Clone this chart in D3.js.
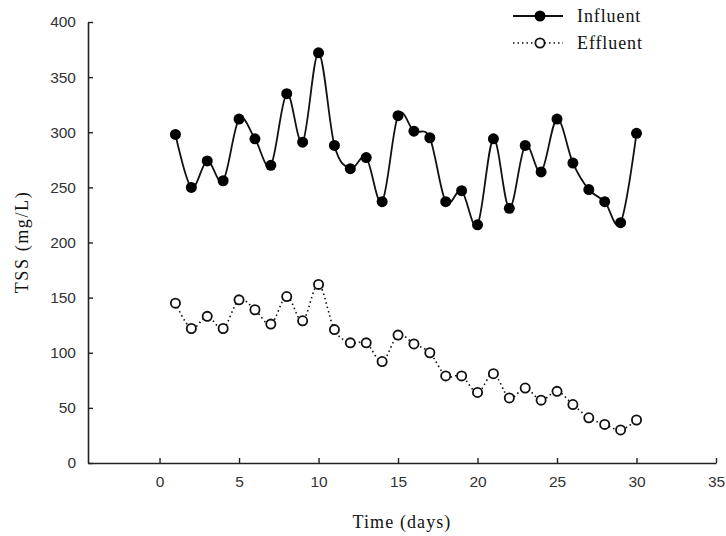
<!DOCTYPE html>
<html>
<head>
<meta charset="utf-8">
<script src="https://cdn.jsdelivr.net/npm/d3@7"></script>
<style>
  html, body { margin: 0; padding: 0; background: #fff; }
  svg { display: block; }
</style>
</head>
<body>
<svg id="chart" width="726" height="536"></svg>
<script>
const days = d3.range(1, 31);
const influent = [298, 250, 274, 256, 312, 294, 270, 335, 291, 372,
                  288, 267, 277, 237, 315, 301, 295, 237, 247, 216,
                  294, 231, 288, 264, 312, 272, 248, 237, 218, 299];
const effluent = [145, 122, 133, 122, 148, 139, 126, 151, 129, 162,
                  121, 109, 109, 92, 116, 108, 100, 79, 79, 64,
                  81, 59, 68, 57, 65, 53, 41, 35, 30, 39];
const xTicks = [0, 5, 10, 15, 20, 25, 30, 35];
const yTicks = [0, 50, 100, 150, 200, 250, 300, 350, 400];
const seriesNames = ["Influent", "Effluent"];

const svg = d3.select("#chart");
const mLeft = 88, mRight = 716, mTop = 22, mBottom = 463;

const x = d3.scaleLinear().domain([-4.5, 35]).range([mLeft, mRight]);
const y = d3.scaleLinear().domain([0, 400]).range([mBottom, mTop]);

const axisColor = "#222";
const tickFont = "'Liberation Sans', Arial, sans-serif";
const serif = "'Liberation Serif', 'Times New Roman', serif";

// X axis
const gx = svg.append("g").attr("transform", `translate(0,${mBottom})`)
  .call(d3.axisBottom(x).tickValues(xTicks).tickSizeInner(-5).tickSizeOuter(0).tickPadding(13));
gx.select(".domain").attr("stroke", axisColor).attr("stroke-width", 1.6);
gx.selectAll(".tick line").attr("stroke", axisColor).attr("stroke-width", 1.4);
gx.selectAll(".tick text").attr("font-family", tickFont).attr("font-size", 15.5).attr("fill", "#333");

// Y axis
const gy = svg.append("g").attr("transform", `translate(${mLeft},0)`)
  .call(d3.axisLeft(y).tickValues(yTicks).tickSizeInner(-5).tickSizeOuter(0).tickPadding(12));
gy.select(".domain").attr("stroke", axisColor).attr("stroke-width", 1.6);
gy.selectAll(".tick line").attr("stroke", axisColor).attr("stroke-width", 1.4);
gy.selectAll(".tick text").attr("font-family", tickFont).attr("font-size", 15.5).attr("fill", "#333");

// Axis titles
svg.append("text").attr("x", 402).attr("y", 528).attr("text-anchor", "middle")
  .attr("font-family", serif).attr("font-size", 18).attr("letter-spacing", 1.1)
  .attr("fill", "#111").text("Time (days)");
svg.append("text").attr("transform", "translate(28,242) rotate(-90)").attr("text-anchor", "middle")
  .attr("font-family", serif).attr("font-size", 18).attr("letter-spacing", 1.6)
  .attr("fill", "#111").text("TSS (mg/L)");

const line = d3.line().x((d, i) => x(days[i])).y(d => y(d)).curve(d3.curveCardinal.tension(0));

// Effluent
svg.append("path").datum(effluent).attr("d", line).attr("fill", "none")
  .attr("stroke", "#111").attr("stroke-width", 1.6).attr("stroke-dasharray", "1.5,3");
svg.selectAll("circle.eff").data(effluent).join("circle").attr("class", "eff")
  .attr("cx", (d, i) => x(days[i])).attr("cy", d => y(d)).attr("r", 4.6)
  .attr("fill", "#fff").attr("stroke", "#111").attr("stroke-width", 1.8);

// Influent
svg.append("path").datum(influent).attr("d", line).attr("fill", "none")
  .attr("stroke", "#111").attr("stroke-width", 1.8);
svg.selectAll("circle.inf").data(influent).join("circle").attr("class", "inf")
  .attr("cx", (d, i) => x(days[i])).attr("cy", d => y(d)).attr("r", 5.5)
  .attr("fill", "#000");

// Legend
const lg = svg.append("g");
const legY = [16, 43];
lg.append("line").attr("x1", 513).attr("x2", 563).attr("y1", legY[0]).attr("y2", legY[0])
  .attr("stroke", "#111").attr("stroke-width", 1.8);
lg.append("circle").attr("cx", 540).attr("cy", legY[0]).attr("r", 5.5).attr("fill", "#000");
lg.append("line").attr("x1", 513).attr("x2", 563).attr("y1", legY[1]).attr("y2", legY[1])
  .attr("stroke", "#111").attr("stroke-width", 1.6).attr("stroke-dasharray", "1.5,3");
lg.append("circle").attr("cx", 540).attr("cy", legY[1]).attr("r", 4.6)
  .attr("fill", "#fff").attr("stroke", "#111").attr("stroke-width", 1.8);
seriesNames.forEach((n, i) => {
  lg.append("text").attr("x", 577).attr("y", legY[i] + 6)
    .attr("font-family", serif).attr("font-size", 18).attr("letter-spacing", 0.9)
    .attr("fill", "#111").text(n);
});
</script>
</body>
</html>
